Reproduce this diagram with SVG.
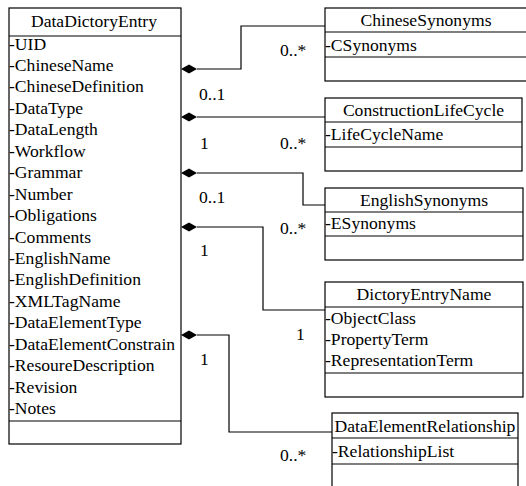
<svg xmlns="http://www.w3.org/2000/svg" width="526" height="486" viewBox="0 0 526 486">
<style>
.box{fill:#fff;stroke:#000;stroke-width:1.2}
.sep{stroke:#000;stroke-width:1.2}
.t{font-family:"Liberation Serif","Tinos","DejaVu Serif","Noto Serif",serif;font-size:17.6px;fill:#000}
.c{text-anchor:middle}
.ln{fill:none;stroke:#000;stroke-width:1.2}
.dia{fill:#000;stroke:none}
</style>
<defs>
<path id="dm" d="M0,0 L8,-4.5 L16,0 L8,4.5 Z" class="dia"/>
</defs>
<rect width="526" height="486" fill="#fff"/>
<g id="connectors">
<path class="ln" d="M197,69 H241 V26 H325"/>
<path class="ln" d="M197,117 H325"/>
<path class="ln" d="M197,173 H303 V205 H325"/>
<path class="ln" d="M197,227 H263 V310 H325"/>
<path class="ln" d="M197,335 H229 V432 H332"/>
<use href="#dm" x="181" y="69"/>
<use href="#dm" x="181" y="117"/>
<use href="#dm" x="181" y="173"/>
<use href="#dm" x="181" y="227"/>
<use href="#dm" x="181" y="335"/>
<text class="t" x="280" y="56">0..*</text>
<text class="t" x="199" y="100">0..1</text>
<text class="t" x="200" y="149">1</text>
<text class="t" x="280" y="149">0..*</text>
<text class="t" x="199" y="203">0..1</text>
<text class="t" x="280" y="234">0..*</text>
<text class="t" x="200" y="256">1</text>
<text class="t" x="296" y="340">1</text>
<text class="t" x="200" y="365">1</text>
<text class="t" x="280" y="461">0..*</text>
</g>
<g id="DataDictoryEntry">
<rect class="box" x="9" y="8" width="172" height="436"/>
<line class="sep" x1="9" y1="36" x2="181" y2="36"/>
<line class="sep" x1="9" y1="421" x2="181" y2="421"/>
<text class="t c" x="94" y="27">DataDictoryEntry</text>
<text class="t" x="9" y="49.5">-UID</text>
<text class="t" x="9" y="70.9">-ChineseName</text>
<text class="t" x="9" y="92.4">-ChineseDefinition</text>
<text class="t" x="9" y="113.8">-DataType</text>
<text class="t" x="9" y="135.3">-DataLength</text>
<text class="t" x="9" y="156.7">-Workflow</text>
<text class="t" x="9" y="178.2">-Grammar</text>
<text class="t" x="9" y="199.6">-Number</text>
<text class="t" x="9" y="221.1">-Obligations</text>
<text class="t" x="9" y="242.5">-Comments</text>
<text class="t" x="9" y="264">-EnglishName</text>
<text class="t" x="9" y="285.4">-EnglishDefinition</text>
<text class="t" x="9" y="306.9">-XMLTagName</text>
<text class="t" x="9" y="328.3">-DataElementType</text>
<text class="t" x="9" y="349.8">-DataElementConstrain</text>
<text class="t" x="9" y="371.2">-ResoureDescription</text>
<text class="t" x="9" y="392.7">-Revision</text>
<text class="t" x="9" y="414.1">-Notes</text>
</g>
<g id="ChineseSynonyms">
<rect class="box" x="325" y="8" width="205" height="73"/>
<line class="sep" x1="325" y1="32" x2="530" y2="32"/>
<line class="sep" x1="325" y1="57" x2="530" y2="57"/>
<text class="t c" x="426" y="26">ChineseSynonyms</text>
<text class="t" x="325" y="51">-CSynonyms</text>
</g>
<g id="ConstructionLifeCycle">
<rect class="box" x="325" y="98" width="197" height="73"/>
<line class="sep" x1="325" y1="122" x2="522" y2="122"/>
<line class="sep" x1="325" y1="147" x2="522" y2="147"/>
<text class="t c" x="423.5" y="116">ConstructionLifeCycle</text>
<text class="t" x="325" y="140">-LifeCycleName</text>
</g>
<g id="EnglishSynonyms">
<rect class="box" x="325" y="188" width="198" height="72"/>
<line class="sep" x1="325" y1="212" x2="523" y2="212"/>
<line class="sep" x1="325" y1="236" x2="523" y2="236"/>
<text class="t c" x="424" y="206">EnglishSynonyms</text>
<text class="t" x="325" y="229">-ESynonyms</text>
</g>
<g id="DictoryEntryName">
<rect class="box" x="325" y="282" width="198" height="115"/>
<line class="sep" x1="325" y1="307" x2="523" y2="307"/>
<line class="sep" x1="325" y1="373" x2="523" y2="373"/>
<text class="t c" x="424" y="300">DictoryEntryName</text>
<text class="t" x="325" y="324">-ObjectClass</text>
<text class="t" x="325" y="345">-PropertyTerm</text>
<text class="t" x="325" y="366">-RepresentationTerm</text>
</g>
<g id="DataElementRelationship">
<rect class="box" x="332" y="413" width="186" height="80"/>
<line class="sep" x1="332" y1="438" x2="518" y2="438"/>
<line class="sep" x1="332" y1="464" x2="518" y2="464"/>
<text class="t c" x="425" y="432">DataElementRelationship</text>
<text class="t" x="332" y="457">-RelationshipList</text>
</g>
</svg>
